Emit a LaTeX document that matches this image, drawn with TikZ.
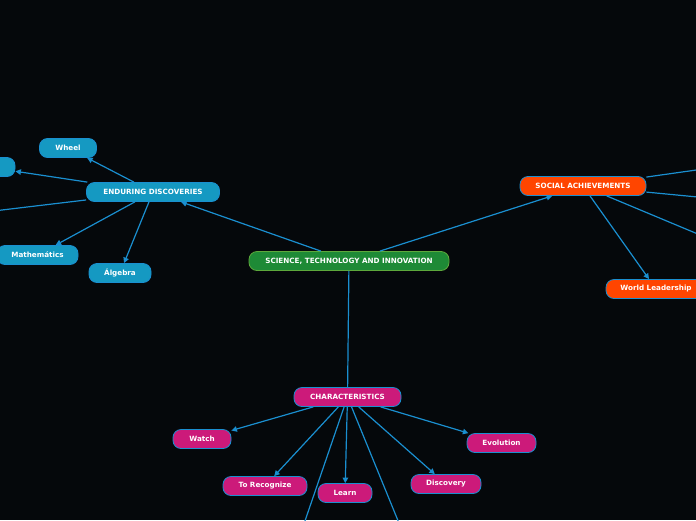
\documentclass[tikz,border=0pt]{standalone}
\usepackage{fontspec}
\setmainfont{DejaVu Sans}
\usepackage{xcolor}
\usepackage{tikz}
\usetikzlibrary{positioning,arrows.meta}
\definecolor{bgdark}{HTML}{05080B}
\definecolor{linkblue}{HTML}{1A8FD0}
\definecolor{topicgreen}{HTML}{1E8A36}
\definecolor{greenedge}{HTML}{5DA83C}
\definecolor{discblue}{HTML}{1599C2}
\definecolor{socialred}{HTML}{FF4500}
\definecolor{charpink}{HTML}{CC1A7A}

\begin{document}
\begin{tikzpicture}[x=1pt, y=-1pt,
  topic/.style={draw=linkblue, line width=0.8pt, rounded corners=8pt, minimum height=19pt,
    inner sep=0pt, text=white, font=\fontsize{7.2}{8}\selectfont\bfseries},
  mainTopic/.style={topic, draw=greenedge, fill=topicgreen},
  discTopic/.style={topic, fill=discblue},
  socTopic/.style={topic, fill=socialred},
  charTopic/.style={topic, fill=charpink},
  link/.style={linkblue, line width=1.2pt, -{Triangle[width=5.5pt,length=5.5pt]}}]
  \useasboundingbox (0,0) rectangle (696,520);
  \clip (0,0) rectangle (696,520);
  \fill[bgdark] (0,0) rectangle (696,520);

  % Central topic
  \node[mainTopic, minimum width=200pt] (central) at (349,261) {SCIENCE, TECHNOLOGY AND INNOVATION};

  % Enduring discoveries branch
  \node[discTopic, minimum width=133pt] (endDisc) at (153,192) {ENDURING DISCOVERIES};
  \node[discTopic, minimum width=57pt] (wheel) at (68,148) {Wheel};
  \node[discTopic, minimum width=56pt] (leftStub) at (-13,167) {};
  \node[discTopic, minimum width=81pt] (mathem) at (37.5,255) {Mathemátics};
  \node[discTopic, minimum width=62pt] (algebra) at (120,273) {Álgebra};
  \coordinate (leftOut) at (-40,215);

  % Social achievements branch
  \node[socTopic, minimum width=126pt] (social) at (583,186) {SOCIAL ACHIEVEMENTS};
  \node[socTopic, minimum width=100pt] (worldLead) at (656,289) {World Leadership};
  \coordinate (rightOutA) at (760,161);
  \coordinate (rightOutB) at (760,203);
  \coordinate (rightOutC) at (760,260);

  % Characteristics branch
  \node[charTopic, minimum width=107pt] (charact) at (347.5,397) {CHARACTERISTICS};
  \node[charTopic, minimum width=58pt] (watch) at (202,439) {Watch};
  \node[charTopic, minimum width=84pt] (toRecog) at (265,486) {To Recognize};
  \node[charTopic, minimum width=54pt] (learn) at (345,493) {Learn};
  \node[charTopic, minimum width=70pt] (discov) at (446,484) {Discovery};
  \node[charTopic, minimum width=69pt] (evol) at (501.5,443) {Evolution};
  \coordinate (downOutA) at (295,550);
  \coordinate (downOutB) at (410,550);

  % Connectors
  \draw[link] (central) -- (endDisc);
  \draw[link] (central) -- (social);
  \draw[linkblue, line width=1.2pt] (central) -- (charact);

  \foreach \n in {wheel,leftStub,mathem,algebra}
    \draw[link] (endDisc) -- (\n);
  \draw[link] (endDisc) -- (leftOut);

  \draw[link] (social) -- (worldLead);
  \foreach \n in {rightOutA,rightOutB,rightOutC}
    \draw[link] (social) -- (\n);

  \foreach \n in {watch,toRecog,learn,discov,evol,downOutA,downOutB}
    \draw[link] (charact) -- (\n);
\end{tikzpicture}
\end{document}
